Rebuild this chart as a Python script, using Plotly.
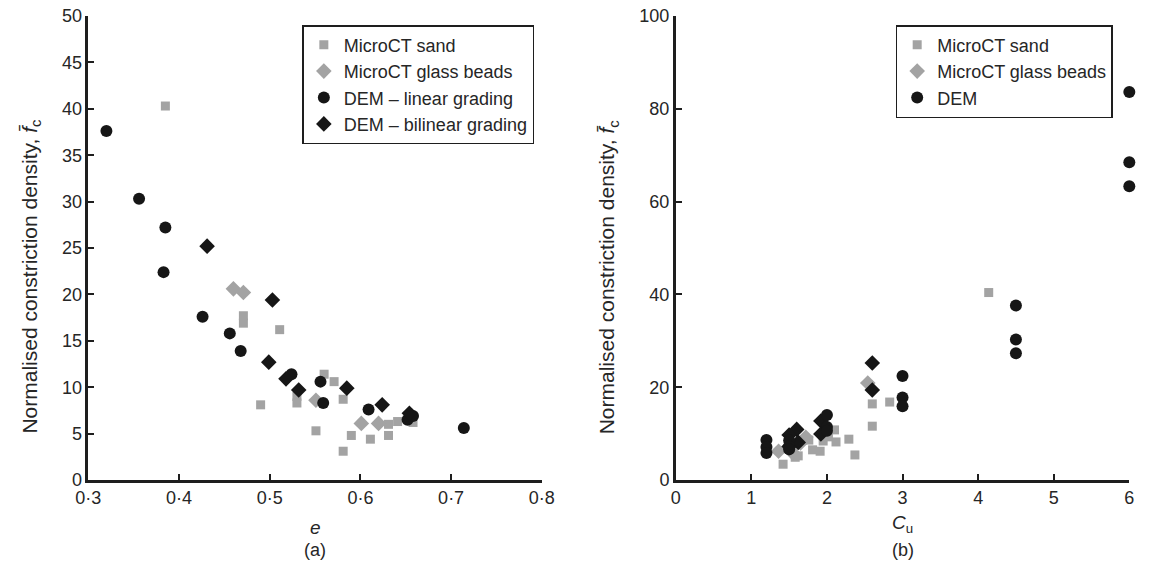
import plotly.graph_objects as go

# ---------- Panel (a): constriction density vs void ratio e ----------
a_sand_e = [0.385, 0.471, 0.471, 0.511, 0.530, 0.530, 0.490, 0.560, 0.571, 0.581,
            0.551, 0.581, 0.590, 0.611, 0.631, 0.641, 0.658, 0.631]
a_sand_f = [40.3, 17.7, 16.9, 16.2, 9.0, 8.3, 8.1, 11.4, 10.6, 8.7,
            5.3, 3.1, 4.8, 4.4, 6.0, 6.3, 6.2, 4.8]
a_glass_e = [0.460, 0.471, 0.551, 0.601, 0.620]
a_glass_f = [20.6, 20.2, 8.6, 6.1, 6.1]
a_lin_e = [0.320, 0.356, 0.385, 0.383, 0.426, 0.456, 0.468, 0.524, 0.556, 0.559,
           0.609, 0.652, 0.658, 0.714]
a_lin_f = [37.6, 30.3, 27.2, 22.4, 17.6, 15.8, 13.9, 11.4, 10.6, 8.3,
           7.6, 6.5, 6.9, 5.6]
a_bil_e = [0.431, 0.503, 0.499, 0.518, 0.532, 0.585, 0.624, 0.654]
a_bil_f = [25.2, 19.4, 12.7, 10.9, 9.7, 9.9, 8.1, 7.2]

# ---------- Panel (b): constriction density vs Cu ----------
b_sand_cu = [4.14, 2.83, 2.60, 2.60, 1.42, 1.58, 1.62, 1.81, 1.91, 2.10,
             2.12, 2.37, 2.29, 1.95, 1.76, 2.02]
b_sand_f = [40.4, 16.8, 16.4, 11.6, 3.4, 4.9, 5.2, 6.5, 6.2, 10.8,
            8.2, 5.4, 8.8, 8.4, 8.6, 9.3]
b_glass_cu = [2.54, 1.36, 1.72, 1.55, 1.65]
b_glass_f = [20.9, 6.2, 9.2, 5.8, 8.0]
b_dem_cu = [6, 6, 6, 4.5, 4.5, 4.5, 3, 3, 3, 2, 2, 2, 1.5, 1.5, 1.5, 1.2, 1.2, 1.2]
b_dem_f = [83.6, 68.5, 63.3, 37.6, 30.3, 27.3, 22.4, 17.8, 15.9, 14.0, 11.4, 10.6,
           8.5, 7.3, 6.6, 8.6, 7.1, 5.8]
b_bil_cu = [2.60, 2.60, 1.92, 1.60, 1.50, 1.92, 1.62, 1.50]
b_bil_f = [25.2, 19.4, 12.7, 10.9, 9.7, 9.9, 8.1, 7.2]

a_xticks = [0.3, 0.4, 0.5, 0.6, 0.7, 0.8]
a_xticklabels = ["0·3", "0·4", "0·5", "0·6", "0·7", "0·8"]
a_yticks = [0, 5, 10, 15, 20, 25, 30, 35, 40, 45, 50]
b_xticks = [0, 1, 2, 3, 4, 5, 6]
b_yticks = [0, 20, 40, 60, 80, 100]

GRAY = "#a3a3a3"
BLACK = "#161616"
TXT = "#262626"
FONT = "Liberation Sans, Arial, sans-serif"
FS = 18

fig = go.Figure()

def add(x, y, name, symbol, color, size, xa, ya, legend, showlegend=True):
    fig.add_trace(go.Scatter(
        x=x, y=y, mode="markers", name=name, xaxis=xa, yaxis=ya,
        marker=dict(symbol=symbol, color=color, size=size, line=dict(width=0)),
        cliponaxis=False, legend=legend, showlegend=showlegend))

SQ, DI, CI = 9, 12, 12
add(a_sand_e, a_sand_f, "MicroCT sand", "square", GRAY, SQ, "x", "y", "legend")
add(a_glass_e, a_glass_f, "MicroCT glass beads", "diamond", GRAY, DI, "x", "y", "legend")
add(a_lin_e, a_lin_f, "DEM – linear grading", "circle", BLACK, CI, "x", "y", "legend")
add(a_bil_e, a_bil_f, "DEM – bilinear grading", "diamond", BLACK, DI, "x", "y", "legend")

add(b_sand_cu, b_sand_f, "MicroCT sand", "square", GRAY, SQ, "x2", "y2", "legend2")
add(b_glass_cu, b_glass_f, "MicroCT glass beads", "diamond", GRAY, DI, "x2", "y2", "legend2")
add(b_bil_cu, b_bil_f, "DEM bilinear", "diamond", BLACK, DI, "x2", "y2", "legend2", showlegend=False)
add(b_dem_cu, b_dem_f, "DEM", "circle", BLACK, CI, "x2", "y2", "legend2")

axis_common = dict(showgrid=False, zeroline=False, showline=True, linecolor="#1e1e1e",
                   linewidth=2.5, ticks="inside", ticklen=6, tickwidth=2, tickcolor="#1e1e1e",
                   tickfont=dict(family=FONT, size=FS, color=TXT), mirror=False)

W, H = 1156, 566
L, R, T, B = 0, 0, 16, 86
PW, PH = W - L - R, H - T - B

leg_common = dict(xanchor="left", yanchor="top", bordercolor="#1e1e1e", borderwidth=1.5,
                  bgcolor="white", font=dict(family=FONT, size=FS, color=TXT), itemwidth=30)

fig.update_layout(
    width=W, height=H, margin=dict(l=L, r=R, t=T, b=B),
    paper_bgcolor="white", plot_bgcolor="white",
    font=dict(family=FONT, size=FS, color=TXT),
    xaxis=dict(domain=[77 / PW, 541 / PW], range=[0.3, 0.8], tickvals=a_xticks,
               ticktext=a_xticklabels, anchor="y", **axis_common),
    yaxis=dict(domain=[0, 1], range=[0, 50], tickvals=a_yticks, anchor="x", **axis_common),
    xaxis2=dict(domain=[678 / PW, 1142 / PW], range=[0, 6], tickvals=b_xticks,
                anchor="y2", **axis_common),
    yaxis2=dict(domain=[0, 1], range=[0, 100], tickvals=b_yticks, anchor="x2", **axis_common),
    legend=dict(x=296 / PW, y=1 - 9 / PH, **leg_common),
    legend2=dict(x=903 / PW, y=1 - 9 / PH, **leg_common),
    showlegend=True,
)

ann = []
ytitle = "Normalised constriction density, <i>f\u0304</i><sub>c</sub>"
tf = dict(family=FONT, size=FS, color=TXT)
yf = dict(family=FONT, size=21, color=TXT)
ymid = (480 - 277) / PH
ann.append(dict(x=18 / PW, y=ymid, xref="paper", yref="paper", text=ytitle, textangle=-90,
                xanchor="center", yanchor="middle", showarrow=False, font=yf))
ann.append(dict(x=609 / PW, y=ymid, xref="paper", yref="paper", text=ytitle, textangle=-90,
                xanchor="center", yanchor="middle", showarrow=False, font=yf))
ann.append(dict(x=309 / PW, y=-(527 - 480) / PH, xref="paper", yref="paper", text="<i>e</i>",
                xanchor="center", yanchor="middle", showarrow=False,
                font=dict(family=FONT, size=19, color=TXT)))
ann.append(dict(x=309 / PW, y=-(550 - 480) / PH, xref="paper", yref="paper", text="(a)",
                xanchor="center", yanchor="middle", showarrow=False, font=tf))
ann.append(dict(x=910 / PW, y=-(524 - 480) / PH, xref="paper", yref="paper",
                text="<i>C</i><sub>u</sub>",
                xanchor="center", yanchor="middle", showarrow=False,
                font=dict(family=FONT, size=19, color=TXT)))
ann.append(dict(x=910 / PW, y=-(550 - 480) / PH, xref="paper", yref="paper", text="(b)",
                xanchor="center", yanchor="middle", showarrow=False, font=tf))
fig.update_layout(annotations=ann)

fig.write_html("out.html")
